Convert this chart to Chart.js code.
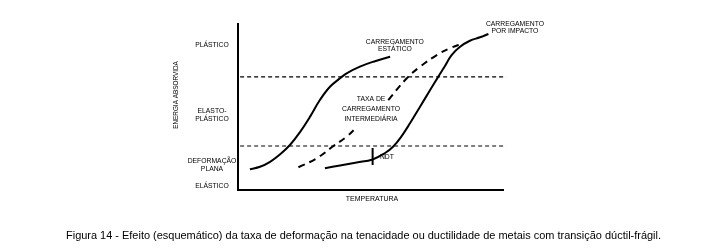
<!DOCTYPE html>
<html>
<head>
<meta charset="utf-8">
<script src="https://cdn.jsdelivr.net/npm/chart.js@4/dist/chart.umd.min.js"></script>
<style>
html,body{margin:0;padding:0;background:#fff;}
#wrap{position:relative;width:726px;height:251px;}
canvas{display:block;}
</style>
</head>
<body>
<div id="wrap"><canvas id="c" width="726" height="251"></canvas></div>
<script>
// Schematic curves (x: temperature 0-100, y: absorbed energy 0-100)
const staticX = [4.5, 8.3, 12.1, 15.8, 19.6, 23.4, 27.2, 30.9, 34.7, 38.5, 41.0, 46.0, 51.1, 57.4];
const staticY = [12.5, 14.0, 17.0, 21.4, 27.1, 34.9, 44.2, 54.2, 62.2, 67.3, 70.3, 74.3, 77.3, 80.3];

const interX = [22.8, 29.7, 36.0, 41.0, 44.8, null, 56.7, 63.7, 68.7, 75.0, 80.0, 85.0];
const interY = [13.7, 19.1, 26.5, 32.1, 37.8, null, 54.2, 67.3, 74.3, 81.3, 85.4, 88.4];

const impactX = [32.8, 38.5, 44.8, 50.8, 55.5, 58.5, 61.5, 64.9, 68.7, 72.5, 75.6, 78.1, 80.6, 83.8, 87.5, 91.3, 94.5];
const impactY = [13.1, 14.8, 16.6, 18.4, 22.3, 26.1, 31.9, 40.2, 50.2, 60.2, 68.3, 74.7, 81.3, 86.3, 89.9, 92.0, 94.0];

const upperLevel = 68.1;   // plastic threshold
const lowerLevel = 26.5;   // plane-strain threshold
const levelX = [0.8, 101.2];

const ndtX = [50.8, 50.8];
const ndtY = [25.3, 15.1];

const yLevelLabels = [
  {lines: ["PLÁSTICO"], y: 87.3},
  {lines: ["ELASTO-", "PLÁSTICO"], y: 45.2},
  {lines: ["DEFORMAÇÃO", "PLANA"], y: 15.1},
  {lines: ["ELÁSTICO"], y: 2.4}
];
const curveLabels = [
  {lines: ["CARREGAMENTO", "ESTÁTICO"], x: 59.2, y: 87.1},
  {lines: ["CARREGAMENTO", "POR IMPACTO"], x: 104.5, y: 97.7},
  {lines: ["TAXA DE", "CARREGAMENTO", "INTERMEDIÁRIA"], x: 50.2, y: 48.8},
  {lines: ["NDT"], x: 56.2, y: 19.9}
];
const xTitle = "TEMPERATURA";
const yTitle = "ENERGIA ABSORVIDA";
const caption = "Figura 14 - Efeito (esquemático) da taxa de deformação na tenacidade ou ductilidade de metais com transição dúctil-frágil.";

function pts(xs, ys){ return xs.map((x,i)=> x===null ? {x:null,y:null} : {x:x, y:ys[i]}); }

const FONT = '"Liberation Sans", Arial, sans-serif';

const textPlugin = {
  id: 'texts',
  afterDraw(chart){
    const ctx = chart.ctx;
    const xs = chart.scales.x, ys = chart.scales.y;
    ctx.save();
    ctx.fillStyle = '#000';
    ctx.textAlign = 'center';
    ctx.textBaseline = 'middle';
    ctx.font = '6.8px ' + FONT;
    const lh = 8;
    yLevelLabels.forEach(l=>{
      const cy = ys.getPixelForValue(l.y);
      const n = l.lines.length;
      l.lines.forEach((t,i)=>{
        ctx.fillText(t, 212, cy + (i-(n-1)/2)*lh);
      });
    });
    curveLabels.forEach(l=>{
      const cx = xs.getPixelForValue(l.x);
      const cy = ys.getPixelForValue(l.y);
      const n = l.lines.length;
      const lhh = n===3 ? 10 : 7.3;
      l.lines.forEach((t,i)=>{
        ctx.fillText(t, cx, cy + (i-(n-1)/2)*lhh);
      });
    });
    // axis titles
    ctx.font = '7px ' + FONT;
    ctx.fillText(xTitle, 372, 199);
    ctx.save();
    ctx.translate(176, 95);
    ctx.rotate(-Math.PI/2);
    ctx.font = '6.4px ' + FONT;
    ctx.fillText(yTitle, 0, 0);
    ctx.restore();
    // caption
    ctx.font = '11.5px "Liberation Sans Narrow", "Liberation Sans", Arial, sans-serif';
    ctx.textAlign = 'left';
    ctx.fillText(caption, 66, 236, 595);
    ctx.restore();
  }
};

new Chart(document.getElementById('c'), {
  type: 'scatter',
  data: {
    datasets: [
      {data: pts(staticX, staticY), showLine: true, borderColor:'#000', borderWidth:2, pointRadius:0, tension:0.4, spanGaps:false},
      {data: pts(interX, interY), showLine: true, borderColor:'#000', borderWidth:2, borderDash:[7,5], pointRadius:0, tension:0.4, spanGaps:false},
      {data: pts(impactX, impactY), showLine: true, borderColor:'#000', borderWidth:2, pointRadius:0, tension:0.4},
      {data: pts(levelX, [upperLevel, upperLevel]), showLine:true, borderColor:'#000', borderWidth:1.3, borderDash:[4,3], pointRadius:0},
      {data: pts(levelX, [lowerLevel, lowerLevel]), showLine:true, borderColor:'#000', borderWidth:1.1, borderDash:[4,3], pointRadius:0},
      {data: pts(ndtX, ndtY), showLine:true, borderColor:'#000', borderWidth:2, pointRadius:0}
    ]
  },
  options: {
    responsive:false,
    animation:false,
    clip:false,
    layout:{padding:{left:238, top:24, right:223, bottom:61}},
    plugins:{legend:{display:false}, tooltip:{enabled:false}},
    scales:{
      x:{type:'linear', min:0, max:100, ticks:{display:false}, grid:{display:false, drawTicks:false}, border:{display:true, color:'#000', width:2}},
      y:{type:'linear', min:0, max:100, ticks:{display:false}, grid:{display:false, drawTicks:false}, border:{display:true, color:'#000', width:2}}
    }
  },
  plugins:[textPlugin]
});
</script>
</body>
</html>
